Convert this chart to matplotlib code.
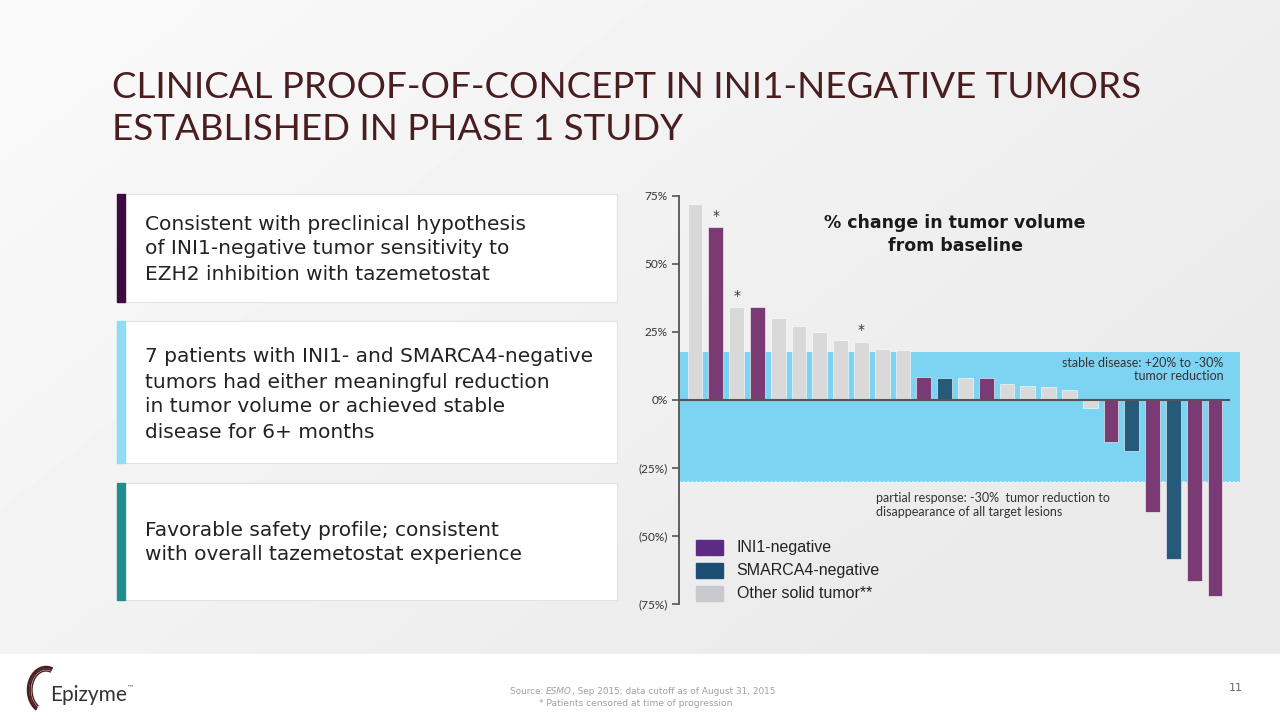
import numpy as np
import matplotlib
matplotlib.use('Agg')
import matplotlib.pyplot as plt
from matplotlib.patches import Rectangle

# data
pct_change = [72, 63.6, 34.3, 34.2, 30, 27.3, 25, 22, 21.5, 18.8, 18.4,
              8.6, 8.2, 8.2, 8.0, 5.8, 5.2, 4.9, 3.6, -3.1,
              -15.6, -18.8, -41.2, -58.4, -66.7, -72]
tumor_type = ['other', 'ini1', 'other', 'ini1', 'other', 'other', 'other', 'other', 'other', 'other', 'other',
              'ini1', 'smarca4', 'other', 'ini1', 'other', 'other', 'other', 'other', 'other',
              'ini1', 'smarca4', 'ini1', 'smarca4', 'ini1', 'ini1']
censored = [1, 2, 8]
yticks = [75, 50, 25, 0, -25, -50, -75]
ytick_labels = ['75%', '50%', '25%', '0%', '(25%)', '(50%)', '(75%)']
legend_labels = ['INI1-negative', 'SMARCA4-negative', 'Other solid tumor**']
stable_top, stable_bottom = 17.5, -30

bar_colors = {'ini1': '#7a3a74', 'smarca4': '#275a78', 'other': '#d9d9d9'}
legend_colors = ['#5c2b86', '#1d4f73', '#c8c9cf']

title_font = 'Lato'
body_font = 'DejaVu Sans'

fig = plt.figure(figsize=(12.8, 7.2), dpi=100)

# slide background
bg = fig.add_axes([0, 0, 1, 1])
bg.set_xlim(0, 1280)
bg.set_ylim(720, 0)
bg.axis('off')
yy, xx = np.mgrid[0:720, 0:1280]
grad = 0.98 - 0.065 * np.clip((xx / 1280) * 0.7 + (yy / 720) * 0.5, 0, 1)
bg.imshow(grad, cmap='gray', vmin=0, vmax=1, extent=[0, 1280, 720, 0], aspect='auto', zorder=0)
bg.add_patch(Rectangle((0, 654), 1280, 66, color='white', zorder=1))

# title
bg.text(112, 88, 'CLINICAL PROOF-OF-CONCEPT IN INI1-NEGATIVE TUMORS', fontsize=26.5,
        color='#4a1d1f', va='center', family=title_font, zorder=2)
bg.text(112, 130, 'ESTABLISHED IN PHASE 1 STUDY', fontsize=26.5,
        color='#4a1d1f', va='center', family=title_font, zorder=2)

# left text boxes
boxes = [
    (194, 302, '#3d0b40', ['Consistent with preclinical hypothesis',
                           'of INI1-negative tumor sensitivity to',
                           'EZH2 inhibition with tazemetostat'], 224),
    (321, 463, '#8edcf5', ['7 patients with INI1- and SMARCA4-negative',
                           'tumors had either meaningful reduction',
                           'in tumor volume or achieved stable',
                           'disease for 6+ months'], 357),
    (483, 600, '#238c8c', ['Favorable safety profile; consistent',
                           'with overall tazemetostat experience'], 530),
]
for top, bottom, col, lines, first in boxes:
    bg.add_patch(Rectangle((117, top), 500, bottom - top, facecolor='white',
                           edgecolor='#e2e2e2', lw=0.8, zorder=2))
    bg.add_patch(Rectangle((117, top), 8, bottom - top, color=col, zorder=3))
    for k, line in enumerate(lines):
        bg.text(145, first + k * 25, line, fontsize=14.5, color='#222222',
                va='center', family=body_font, zorder=4)

# footer logo
th = np.radians(np.linspace(-72, -235, 60))
for rx, ry, lw in [(18, 23, 1.8), (16, 21, 1.3), (14, 19, 1.0)]:
    bg.plot(46 + rx * np.cos(th), 690 + ry * np.sin(th), color='#4a1d1f', lw=lw, zorder=3)
bg.text(50, 695, 'Epizyme', fontsize=15, color='#333333', va='center', family=title_font, zorder=4)
bg.text(127, 687, '™', fontsize=5, color='#555555', va='center', zorder=4)
bg.text(1236, 688, '11', fontsize=8, color='#666666', ha='center', va='center', zorder=4)

s1 = bg.text(510, 692, 'Source: ', fontsize=6.4, color='#a0a0a0', va='center', zorder=4)
s2 = bg.annotate('ESMO', xy=(1, 0), xycoords=s1, va='bottom', fontsize=6.4,
                 color='#a0a0a0', style='italic', zorder=4)
bg.annotate(', Sep 2015; data cutoff as of August 31, 2015', xy=(1, 0), xycoords=s2,
            va='bottom', fontsize=6.4, color='#a0a0a0', zorder=4)
bg.text(636, 704, '* Patients censored at time of progression', fontsize=6.6,
        color='#a0a0a0', ha='center', va='center', zorder=4)

# waterfall chart
px_l, px_r, px_t, px_b = 679, 1245, 196, 604
ax = fig.add_axes([px_l / 1280, 1 - px_b / 720, (px_r - px_l) / 1280, (px_b - px_t) / 720])
ax.set_facecolor('none')
x0 = (px_l - 695) / 20.8
x1 = (px_r - 695) / 20.8
ax.set_xlim(x0, x1)
ax.set_ylim(-75, 75)

band_end = (1240 - 695) / 20.8
ax.add_patch(Rectangle((x0, stable_bottom), band_end - x0, stable_top - stable_bottom,
                       color='#7dd3f2', zorder=1, lw=0))
ax.hlines(stable_bottom, x0, band_end, colors='#e8f4fa', linestyles=(0, (1, 1.5)), lw=1.2, zorder=2)

x = np.arange(len(pct_change))
ax.bar(x, pct_change, width=0.72, color=[bar_colors[t] for t in tumor_type],
       edgecolor='white', linewidth=0.4, zorder=3)
ax.hlines(0, x0, (1230 - 695) / 20.8, colors='#555555', lw=1.5, zorder=4)
for i in censored:
    ax.text(i, pct_change[i] + 1.5, '*', ha='center', va='bottom', fontsize=10, color='#333333', zorder=5)

for side in ['top', 'right', 'bottom']:
    ax.spines[side].set_visible(False)
ax.spines['left'].set_color('#555555')
ax.spines['left'].set_linewidth(1.3)
ax.set_xticks([])
ax.set_yticks(yticks)
ax.set_yticklabels(ytick_labels, fontsize=8.5, color='#333333', family=title_font)
ax.tick_params(axis='y', length=5, width=1.2, color='#555555', pad=3)

ax.text(12.5, 60.8, '% change in tumor volume\nfrom baseline', ha='center', va='center',
        fontsize=12.5, fontweight='bold', color='#1a1a1a', family=body_font, linespacing=1.35, zorder=5)
ax.text(25.4, 11.2, 'stable disease: +20% to -30%\ntumor reduction', ha='right', va='center',
        fontsize=9, color='#333333', family=title_font, linespacing=1.15, zorder=5)
ax.text(8.7, -38.6, 'partial response: -30%  tumor reduction to\ndisappearance of all target lesions',
        ha='left', va='center', fontsize=9, color='#333333', family=title_font, linespacing=1.15, zorder=5)

# legend boxes
for k, (lab, col) in enumerate(zip(legend_labels, legend_colors)):
    yc = -54.1 - k * 8.5
    ax.add_patch(Rectangle((0.05, yc - 2.8), 1.3, 5.6, color=col, zorder=5))
    ax.text(2.0, yc, lab, va='center', fontsize=11.5, color='#222222',
            family='Liberation Sans', zorder=5)

fig.savefig('out.png', dpi=100)
